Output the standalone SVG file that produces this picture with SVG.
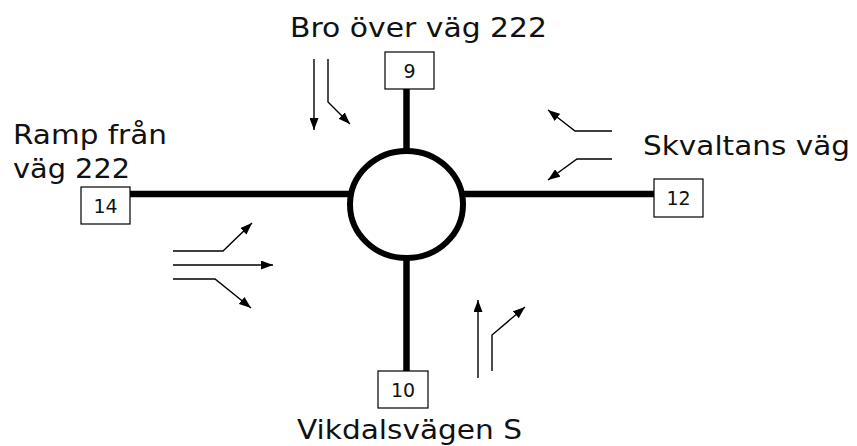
<svg xmlns="http://www.w3.org/2000/svg" width="857" height="446" viewBox="0 0 857 446">
<style>
.road{stroke:#000;stroke-width:6.5;fill:none}
.flow{stroke:#000;stroke-width:1.4;fill:none;marker-end:url(#ah)}
.box{fill:#fff;stroke:#000;stroke-width:1.2}
.lbl{font-family:"DejaVu Sans",Verdana,sans-serif;font-size:26px;fill:#111}
.num{font-family:"DejaVu Sans",Verdana,sans-serif;font-size:19px;fill:#111;text-anchor:middle}
</style>
<defs>
<marker id="ah" viewBox="0 0 12 9" refX="12" refY="4.5" markerWidth="12" markerHeight="9" markerUnits="userSpaceOnUse" orient="auto">
<path d="M0,0 L12,4.5 L0,9 Z" fill="#000"/>
</marker>
</defs>
<rect width="857" height="446" fill="#fff"/>
<g id="connectors">
<line class="road" x1="130" y1="194" x2="350" y2="194"/>
<line class="road" x1="463" y1="194" x2="654" y2="194"/>
<line class="road" x1="406.5" y1="89" x2="406.5" y2="150"/>
<line class="road" x1="406.5" y1="259" x2="406.5" y2="371"/>
<path class="flow" d="M173,251 H223 L252,223"/>
<path class="flow" d="M173,265 H273"/>
<path class="flow" d="M173,279 H215 L251,308"/>
<path class="flow" d="M478,378 V300"/>
<path class="flow" d="M492,371 V335 L525,307"/>
<path class="flow" d="M314,59 V130"/>
<path class="flow" d="M328,59 V102 L350,124"/>
<path class="flow" d="M612,131 H575 L548,110"/>
<path class="flow" d="M612,159 H577 L548,180"/>
</g>
<g id="roundabout">
<ellipse cx="406.5" cy="204.5" rx="56.5" ry="53.5" fill="#fff" stroke="#000" stroke-width="6"/>
</g>
<g id="node9">
<rect class="box" x="385" y="52" width="49" height="37"/>
<text class="num" x="409.5" y="78">9</text>
<text class="lbl" x="290" y="37" textLength="257" lengthAdjust="spacingAndGlyphs">Bro över väg 222</text>
</g>
<g id="node14">
<rect class="box" x="81" y="187" width="49" height="37"/>
<text class="num" x="105.5" y="213">14</text>
<text class="lbl" x="13" y="144" textLength="154" lengthAdjust="spacingAndGlyphs">Ramp från</text>
<text class="lbl" x="13" y="178" textLength="117" lengthAdjust="spacingAndGlyphs">väg 222</text>
</g>
<g id="node12">
<rect class="box" x="654" y="179" width="49" height="38"/>
<text class="num" x="678.5" y="205">12</text>
<text class="lbl" x="643" y="155" textLength="207" lengthAdjust="spacingAndGlyphs">Skvaltans väg</text>
</g>
<g id="node10">
<rect class="box" x="378" y="371" width="50" height="37"/>
<text class="num" x="403" y="397">10</text>
<text class="lbl" x="297" y="439" textLength="225" lengthAdjust="spacingAndGlyphs">Vikdalsvägen S</text>
</g>
</svg>
